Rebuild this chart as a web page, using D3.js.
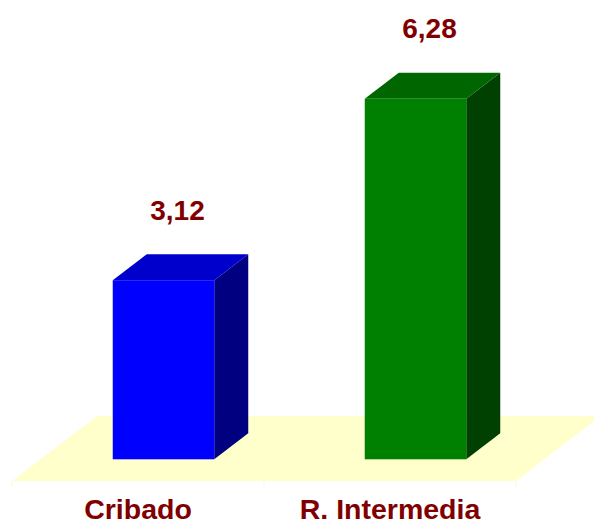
<!DOCTYPE html>
<html>
<head>
<meta charset="utf-8">
<script src="https://cdn.jsdelivr.net/npm/d3@7"></script>
<style>
  html, body { margin: 0; padding: 0; background: #fff; }
  svg { display: block; }
  text { font-family: Arial, "Liberation Sans", sans-serif; font-weight: bold; fill: #800000; }
</style>
</head>
<body>
<svg id="chart" width="594" height="525"></svg>
<script>
// Data
const categories = ["Cribado", "R. Intermedia"];
const values = [3.12, 6.28];
const valueLabels = ["3,12", "6,28"];
const frontColors = ["#0000ff", "#008000"];
const topColors = ["#0000cc", "#006600"];
const sideColors = ["#000080", "#004000"];

const svg = d3.select("#chart");

// Layout of the 3D floor and bars
const floorFront = 481, floorDepthX = 85, floorDepthY = -65;
const baseY = 459.3;           // bar bottom (front face)
const barDepthX = 34, barDepthY = -26;
const barWidth = 101.5;
const barShiftX = 25.5;        // bars sit part-way back on the floor

const x = d3.scaleBand().domain(categories).range([12, 516]).padding(0);
const y = d3.scaleLinear().domain([0, 7]).range([baseY, baseY - 7 * 57.4]);

// Floor
const fx0 = x.range()[0], fx1 = x.range()[1];
svg.append("path")
  .attr("d", `M${fx0},${floorFront}L${fx1},${floorFront}L${fx1 + floorDepthX},${floorFront + floorDepthY}L${fx0 + floorDepthX},${floorFront + floorDepthY}Z`)
  .attr("fill", "#ffffcc");

// Category tick marks along the floor front edge
const tickXs = categories.map(c => x(c)).concat([fx1]);
svg.selectAll("line.tick").data(tickXs).join("line")
  .attr("class", "tick")
  .attr("x1", d => d).attr("x2", d => d)
  .attr("y1", floorFront).attr("y2", floorFront + 6)
  .attr("stroke", "#f7f7e4").attr("stroke-width", 1);

// Bars
const bars = svg.selectAll("g.bar").data(categories).join("g").attr("class", "bar");
bars.each(function(c, i) {
  const g = d3.select(this);
  const x0 = x(c) + (x.bandwidth() - barWidth) / 2 + barShiftX;
  const x1 = x0 + barWidth;
  const yt = y(values[i]);
  const yb = y(0);
  // side face
  g.append("path")
    .attr("d", `M${x1},${yt}L${x1 + barDepthX},${yt + barDepthY}L${x1 + barDepthX},${yb + barDepthY}L${x1},${yb}Z`)
    .attr("fill", sideColors[i]);
  // top face
  g.append("path")
    .attr("d", `M${x0},${yt}L${x1},${yt}L${x1 + barDepthX},${yt + barDepthY}L${x0 + barDepthX},${yt + barDepthY}Z`)
    .attr("fill", topColors[i]);
  // front face
  g.append("rect")
    .attr("x", x0).attr("y", yt)
    .attr("width", barWidth).attr("height", yb - yt)
    .attr("fill", frontColors[i]);
  // value label above the bar
  g.append("text")
    .attr("x", x0 + barWidth / 2 + 14)
    .attr("y", yt + barDepthY - 34.5)
    .attr("text-anchor", "middle")
    .attr("font-size", 28)
    .text(valueLabels[i]);
});

// Category labels
svg.selectAll("text.cat").data(categories).join("text")
  .attr("class", "cat")
  .attr("x", d => x(d) + x.bandwidth() / 2)
  .attr("y", 519)
  .attr("text-anchor", "middle")
  .attr("font-size", 28.5)
  .text(d => d);
</script>
</body>
</html>
